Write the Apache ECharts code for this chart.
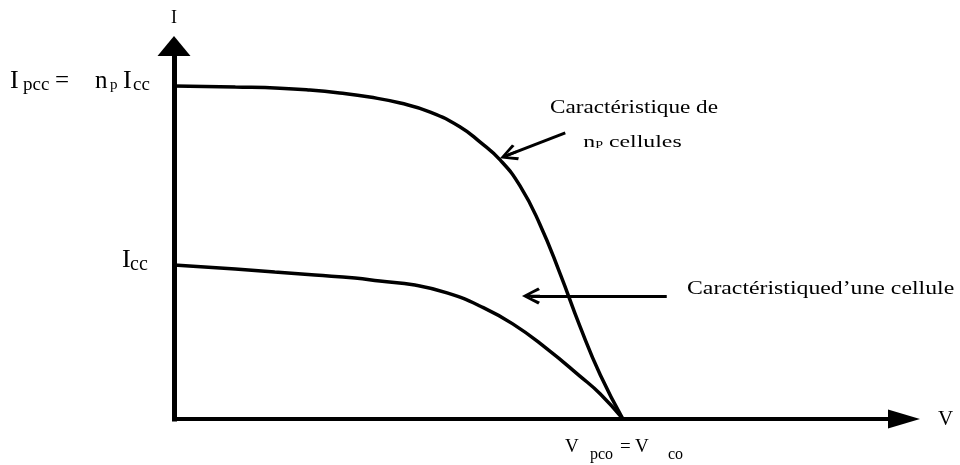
<!DOCTYPE html>
<html>
<head>
<meta charset="utf-8">
<script src="https://cdn.jsdelivr.net/npm/echarts@6/dist/echarts.min.js"></script>
<style>
  html, body { margin: 0; padding: 0; background: #fff; }
  #chart { width: 960px; height: 465px; }
</style>
</head>
<body>
<div id="chart"></div>
<script>
// I–V characteristic of one PV cell and of np cells in parallel (schematic units, 0–100)

// np cells in parallel
const upperV = [0, 8.4, 14.5, 18.6, 22.7, 26.8, 31.0, 35.1, 39.2, 41.9, 44.7, 47.4, 50.1, 52.9, 55.6, 58.4, 61.5];
const upperI = [89.3, 89.0, 88.7, 88.2, 87.4, 86.3, 84.7, 82.3, 78.3, 74.3, 69.4, 62.5, 52.3, 38.9, 24.9, 11.8, 0];

// single cell
const lowerV = [0, 8.4, 13.8, 19.3, 24.8, 28.2, 33.0, 37.4, 41.9, 46.4, 51.1, 55.6, 58.4, 61.5];
const lowerI = [41.3, 40.2, 39.4, 38.6, 37.8, 37.0, 35.9, 33.8, 30.3, 25.5, 18.8, 11.5, 6.7, 0];

// annotation arrows: [tail, head] in data units
const arrowUpper = [[53.6, 76.7], [45.8, 70.8]];
const arrowLower = [[67.5, 33.0], [48.9, 33.0]];

// annotation texts
const noteUpper1 = 'Caractéristique de';
const noteUpper2 = '{n|n}{p|P} cellules';
const noteLower = 'Caractéristiqued’une cellule';

const ipcc = upperI[0];
const icc = lowerI[0];
const vco = upperV[upperV.length - 1];

const SERIF = '"Liberation Serif", "Times New Roman", serif';
const INK = '#000';
// open chevron head with a short stem, pointing "up" in symbol space
const chevron = 'path://M10,0 L20,18 L17,20 L10,6 L3,20 L0,18 Z M8.5,3 L11.5,3 L11.5,20 L8.5,20 Z';

const pairs = (xs, ys) => xs.map((x, i) => [x, ys[i]]);

// rich-text fragment style, laid out left to right inside a fixed width
const frag = (fontSize, width, padTop) => ({
  fontSize, width, align: 'left', fontFamily: SERIF, color: INK,
  padding: [padTop || 0, 0, 0, 0]
});

const arrowMark = (seg) => ({
  silent: true,
  symbol: ['none', chevron],
  symbolSize: [17, 18],
  label: { show: false },
  lineStyle: { color: INK, width: 3, type: 'solid' },
  itemStyle: { color: INK },
  emphasis: { disabled: true },
  data: [[{ coord: seg[0] }, { coord: seg[1] }]]
});

const chart = echarts.init(document.getElementById('chart'), null, { renderer: 'canvas' });

chart.setOption({
  animation: false,
  backgroundColor: '#fff',
  grid: { left: 174, right: 56, top: 46, bottom: 46, containLabel: false, outerBoundsMode: 'none' },
  xAxis: {
    type: 'value', min: 0, max: 100,
    name: 'V', nameLocation: 'end', nameGap: 34,
    nameTextStyle: { fontFamily: SERIF, fontSize: 21, color: INK, verticalAlign: 'middle' },
    axisLine: {
      show: true, onZero: false,
      symbol: ['none', 'triangle'], symbolSize: [19, 32],
      lineStyle: { color: INK, width: 4, cap: 'square' }
    },
    axisTick: { show: false },
    splitLine: { show: false },
    axisLabel: {
      customValues: [vco],
      margin: 13,
      color: INK,
      fontFamily: SERIF,
      formatter: () => '{gap| }{V|V}{sub|pco}{eq|=}{V2|V}{sub2|co}',
      rich: {
        gap: frag(18, 11),
        V: frag(19, 25),
        sub: frag(16, 30, 15),
        eq: frag(19, 15),
        V2: frag(19, 33),
        sub2: frag(16, 24, 15)
      }
    }
  },
  yAxis: {
    type: 'value', min: 0, max: 100,
    name: 'I', nameLocation: 'end', nameGap: 19,
    nameTextStyle: { fontFamily: SERIF, fontSize: 18, color: INK },
    axisLine: {
      show: true, onZero: false,
      symbol: ['none', 'triangle'], symbolSize: [33, 20],
      lineStyle: { color: INK, width: 5, cap: 'square' }
    },
    axisTick: { show: false },
    splitLine: { show: false },
    axisLabel: {
      customValues: [icc, ipcc],
      margin: 19,
      padding: [0, 0, 9, 0],
      color: INK,
      fontFamily: SERIF,
      formatter: (v) => v === ipcc
        ? '{I1|I}{s1|pcc}{eq|=}{n|n}{p|p}{I2|I}{s2|cc}'
        : '{I3|I}{s3|cc}',
      rich: {
        I1: frag(26, 13),
        s1: frag(19, 32, 8),
        eq: frag(25, 40),
        n: frag(25, 15),
        p: frag(15, 13, 8),
        I2: frag(26, 10),
        s2: frag(19, 22, 8),
        I3: frag(26, 8),
        s3: frag(20, 25, 8)
      }
    }
  },
  series: [
    {
      name: 'np cellules',
      type: 'line',
      data: pairs(upperV, upperI),
      smooth: 0.5,
      symbol: 'none',
      color: INK,
      lineStyle: { color: INK, width: 3.5 },
      emphasis: { disabled: true },
      markLine: arrowMark(arrowUpper)
    },
    {
      name: 'une cellule',
      type: 'line',
      data: pairs(lowerV, lowerI),
      smooth: 0.5,
      symbol: 'none',
      color: INK,
      lineStyle: { color: INK, width: 3.5 },
      emphasis: { disabled: true },
      markLine: arrowMark(arrowLower)
    }
  ],
  graphic: [
    {
      type: 'text', x: 634, y: 108.5, scaleX: 1.22, silent: true,
      style: {
        text: noteUpper1, fill: INK, font: '19px ' + SERIF,
        align: 'center', verticalAlign: 'middle', textAlign: 'center', textVerticalAlign: 'middle'
      }
    },
    {
      type: 'text', x: 632.5, y: 142.5, scaleX: 1.4, silent: true,
      style: {
        text: noteUpper2, fill: INK, font: '17px ' + SERIF,
        align: 'center', verticalAlign: 'middle', textAlign: 'center', textVerticalAlign: 'middle',
        rich: {
          n: { fontSize: 17, fontFamily: SERIF, fill: INK },
          p: { fontSize: 10, fontFamily: SERIF, fill: INK, padding: [5, 0, 0, 0] }
        }
      }
    },
    {
      type: 'text', x: 687, y: 289, scaleX: 1.32, silent: true,
      style: {
        text: noteLower, fill: INK, font: '18px ' + SERIF,
        align: 'left', verticalAlign: 'middle', textAlign: 'left', textVerticalAlign: 'middle'
      }
    }
  ]
});
</script>
</body>
</html>
